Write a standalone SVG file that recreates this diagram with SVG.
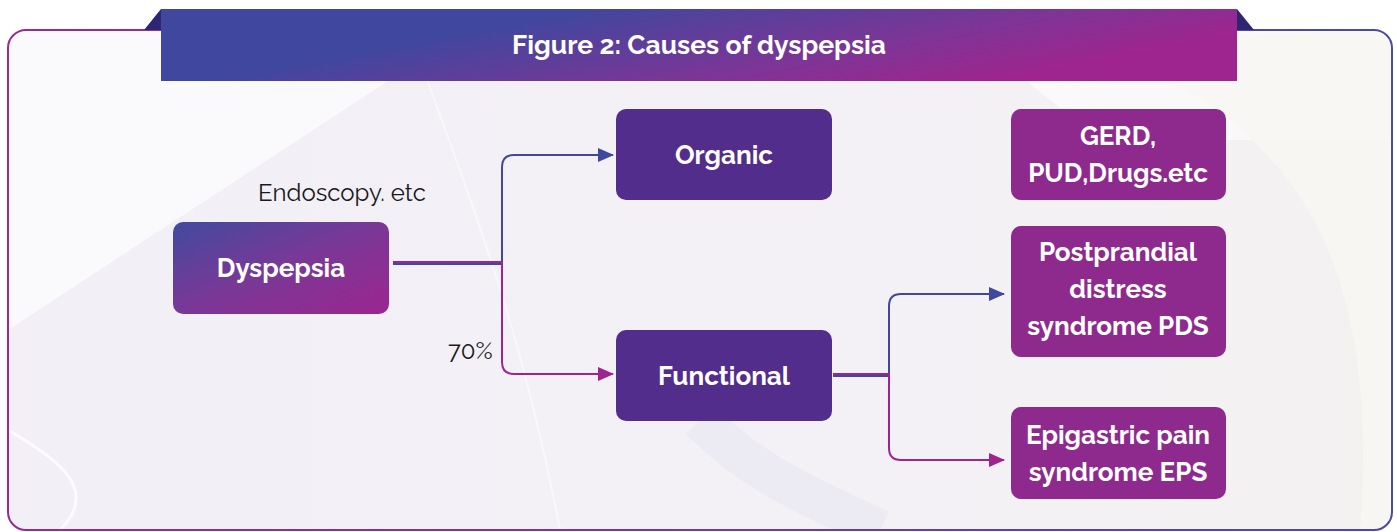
<svg xmlns="http://www.w3.org/2000/svg" width="1397" height="532" viewBox="0 0 1397 532">
<defs>
<linearGradient id="frame" x1="0" y1="0" x2="1" y2="0"><stop offset="0" stop-color="#9a2a93"/><stop offset="1" stop-color="#4a4aa8"/></linearGradient>
<linearGradient id="banner" x1="0" y1="0" x2="1" y2="0.35"><stop offset="0.35" stop-color="#40479e"/><stop offset="0.75" stop-color="#7d3596"/><stop offset="1" stop-color="#9e258f"/></linearGradient>
<linearGradient id="dys" x1="0" y1="0" x2="1" y2="1"><stop offset="0" stop-color="#424a9f"/><stop offset="0.5" stop-color="#7a3896"/><stop offset="1" stop-color="#9c2590"/></linearGradient>
<linearGradient id="bg" x1="0" y1="0" x2="1" y2="0"><stop offset="0" stop-color="#f2f0f6"/><stop offset="0.6" stop-color="#f3f1f6"/><stop offset="1" stop-color="#f3f1f0"/></linearGradient>
<marker id="ab" viewBox="0 0 16 14" refX="15" refY="7" markerWidth="16" markerHeight="14" markerUnits="userSpaceOnUse" orient="auto"><path d="M0 0 L16 7 L0 14 Z" fill="#40479e"/></marker>
<marker id="ap" viewBox="0 0 16 14" refX="15" refY="7" markerWidth="16" markerHeight="14" markerUnits="userSpaceOnUse" orient="auto"><path d="M0 0 L16 7 L0 14 Z" fill="#9c2590"/></marker>
<clipPath id="inner"><rect x="8" y="30" width="1384" height="500" rx="18"/></clipPath>
</defs>
<style>
.box{stroke:none}
.lbl{font-family:"Raleway","Lato","Open Sans",sans-serif;font-weight:700;font-size:26px;fill:#ffffff;text-anchor:middle}
.ttl{font-family:"Raleway","Lato","Open Sans",sans-serif;font-weight:700;font-size:26.5px;fill:#ffffff;text-anchor:middle}
.plain{font-family:"Raleway","Lato","Open Sans",sans-serif;font-size:24px;fill:#1a1a1a}
.cb{fill:none;stroke:#40479e;stroke-width:2}
.cp{fill:none;stroke:#9c2590;stroke-width:2}
</style>
<rect width="1397" height="532" fill="#ffffff"/>
<g id="background" clip-path="url(#inner)">
<rect x="8" y="30" width="1384" height="500" fill="url(#bg)"/>
<path d="M8 330 L420 60 L1000 60 L1100 140 L1392 140 L1392 30 L8 30 Z" fill="#ffffff" opacity="0.6"/>
<path d="M1080 40 C1300 120 1380 260 1360 530 L1392 530 L1392 30 Z" fill="#f8f6f2" opacity="0.9"/>
<path d="M420 60 C470 200 520 320 560 530" stroke="#ffffff" stroke-width="2" fill="none" opacity="0.45"/>
<path d="M700 420 C760 480 820 500 880 530" stroke="#e6e3ef" stroke-width="40" fill="none" opacity="0.5"/>
<path d="M8 430 C60 460 100 490 60 530" stroke="#ffffff" stroke-width="3" fill="none" opacity="0.8"/>
</g>
<rect id="frame-border" x="8" y="30" width="1384" height="500" rx="18" fill="none" stroke="url(#frame)" stroke-width="2"/>
<g id="title">
<path d="M144 30 L161 9 L161 30 Z" fill="#2e2573"/>
<path d="M1237 9 L1254 30 L1237 30 Z" fill="#2e2573"/>
<rect x="161" y="9" width="1076" height="72" fill="url(#banner)"/>
<text x="699" y="54" class="ttl">Figure 2: Causes of dyspepsia</text>
</g>
<g id="connectors">
<path class="cb" d="M393 264 H502 V167 Q502 155 514 155 H613" marker-end="url(#ab)"/>
<path class="cp" d="M393 262 H502 V362 Q502 374 514 374 H613" marker-end="url(#ap)"/>
<path class="cb" d="M833 376 H889 V306 Q889 294 901 294 H1004" marker-end="url(#ab)"/>
<path class="cp" d="M833 374 H889 V448 Q889 460 901 460 H1004" marker-end="url(#ap)"/>
</g>
<g id="node-dyspepsia"><rect class="box" x="173" y="222" width="216" height="92" rx="10" fill="url(#dys)"/><text class="lbl" x="281" y="277">Dyspepsia</text></g>
<g id="node-organic"><rect class="box" x="616" y="109" width="216" height="91" rx="10" fill="#522d8c"/><text class="lbl" x="724" y="164">Organic</text></g>
<g id="node-functional"><rect class="box" x="616" y="330" width="216" height="91" rx="10" fill="#522d8c"/><text class="lbl" x="724" y="385">Functional</text></g>
<g id="node-gerd"><rect class="box" x="1011" y="109" width="215" height="91" rx="10" fill="#8e2a8e"/><text class="lbl" x="1118" y="145">GERD,</text><text class="lbl" x="1118" y="182">PUD,Drugs.etc</text></g>
<g id="node-pds"><rect class="box" x="1011" y="226" width="215" height="131" rx="10" fill="#8e2a8e"/><text class="lbl" x="1118" y="261">Postprandial</text><text class="lbl" x="1118" y="298">distress</text><text class="lbl" x="1118" y="335">syndrome PDS</text></g>
<g id="node-eps"><rect class="box" x="1011" y="407" width="215" height="92" rx="10" fill="#8e2a8e"/><text class="lbl" x="1118" y="444">Epigastric pain</text><text class="lbl" x="1118" y="481">syndrome EPS</text></g>
<text class="plain" x="258" y="201">Endoscopy. etc</text>
<text class="plain" x="448" y="359">70%</text>
</svg>
